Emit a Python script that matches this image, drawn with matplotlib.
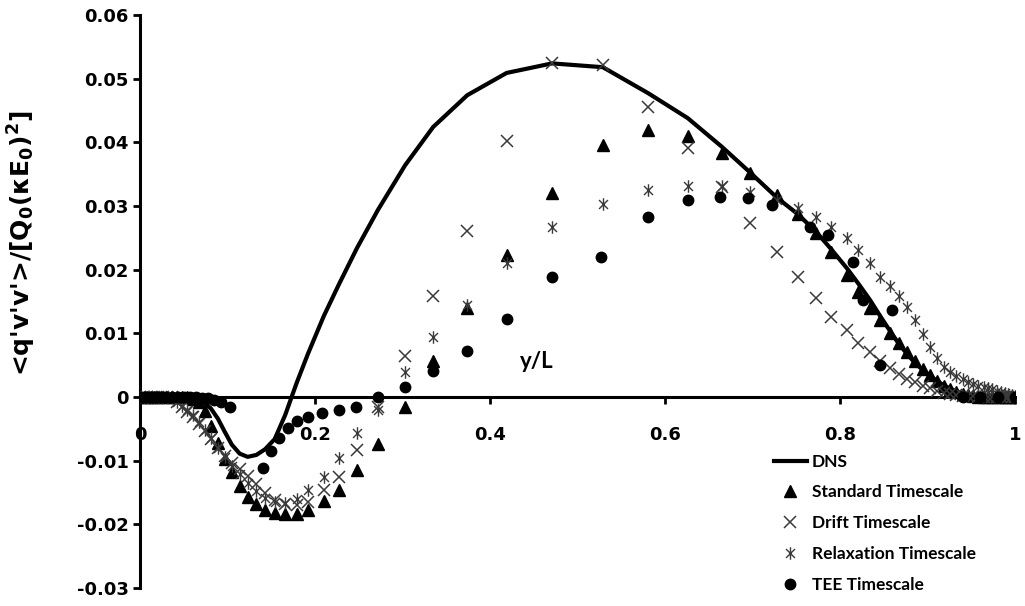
import matplotlib
matplotlib.use("Agg")
import matplotlib.pyplot as plt
from matplotlib.path import Path

# wall-normal positions y/L (shared by DNS and the first three models)
y_L = [0.000, 0.004, 0.008, 0.012, 0.016, 0.021, 0.026, 0.031, 0.036, 0.042,
       0.048, 0.054, 0.060, 0.067, 0.074, 0.081, 0.089, 0.097, 0.105, 0.114,
       0.123, 0.133, 0.143, 0.154, 0.166, 0.179, 0.192, 0.210, 0.227, 0.248,
       0.272, 0.303, 0.335, 0.374, 0.419, 0.471,
       0.529, 0.581, 0.626, 0.665, 0.697, 0.728, 0.752, 0.773, 0.790, 0.808,
       0.821, 0.834, 0.846, 0.857, 0.867, 0.877, 0.886, 0.895, 0.903, 0.911,
       0.919, 0.926, 0.933, 0.940, 0.946, 0.952, 0.958, 0.964, 0.969, 0.974,
       0.979, 0.984, 0.988, 0.992, 0.996, 1.000]

dns = [0, 0, 0, 0, 0, 0, 0, 0, 0, 0,
       0, -0.0001, -0.0002, -0.0004, -0.0009, -0.0018, -0.0034, -0.0055, -0.0075, -0.0089,
       -0.0094, -0.0091, -0.0082, -0.0066, -0.0028, 0.0022, 0.0068, 0.0127, 0.0176, 0.0234,
       0.0294, 0.0364, 0.0424, 0.0474, 0.0509, 0.0524,
       0.0518, 0.0477, 0.0438, 0.0393, 0.0353, 0.0313, 0.0287, 0.0259, 0.0232, 0.0202,
       0.0178, 0.0153, 0.0127, 0.0104, 0.0084, 0.0067, 0.0053, 0.0042, 0.0033, 0.0025,
       0.0018, 0.0013, 0.0009, 0.0006, 0.0004, 0.0002, 0.0001, 0.0001, 0, 0,
       0, 0, 0, 0, 0, 0]

standard = [0, 0, 0, 0, 0, 0, 0, 0, 0, 0,
            0, 0, -0.0003, -0.0008, -0.0022, -0.0045, -0.0072, -0.0097, -0.0118, -0.0140,
            -0.0157, -0.0168, -0.0177, -0.0182, -0.0184, -0.0183, -0.0177, -0.0163, -0.0146, -0.0115,
            -0.0074, -0.0016, 0.0057, 0.0140, 0.0223, 0.0320,
            0.0396, 0.0419, 0.0410, 0.0383, 0.0352, 0.0318, 0.0288, 0.0258, 0.0228, 0.0192,
            0.0165, 0.0140, 0.0121, 0.0101, 0.0085, 0.0071, 0.0056, 0.0044, 0.0034, 0.0025,
            0.0018, 0.0012, 0.0008, 0.0005, 0.0003, 0.0001, 0, 0, 0, 0,
            0, 0, 0, 0, 0, 0]

drift = [0, 0, 0, 0, 0, 0, 0, 0, 0, -0.0008,
         -0.0015, -0.0023, -0.0032, -0.0043, -0.0053, -0.0066, -0.0080, -0.0092, -0.0103, -0.0113,
         -0.0124, -0.0137, -0.0150, -0.0162, -0.0168, -0.0170, -0.0165, -0.0146, -0.0125, -0.0083,
         -0.0016, 0.0065, 0.0159, 0.0261, 0.0402, 0.0524,
         0.0522, 0.0455, 0.0391, 0.0330, 0.0273, 0.0228, 0.0188, 0.0155, 0.0126, 0.0105,
         0.0085, 0.0070, 0.0057, 0.0045, 0.0036, 0.0029, 0.0023, 0.0018, 0.0014, 0.0010,
         0.0007, 0.0005, 0.0003, 0.0002, 0.0001, 0.0001, 0, 0, 0, 0,
         0, 0, 0, 0, 0, 0]

relaxation = [0, 0, 0, 0, 0, 0, 0, 0, 0, -0.0008,
              -0.0014, -0.0021, -0.0029, -0.0040, -0.0052, -0.0065, -0.0080, -0.0095, -0.0108, -0.0121,
              -0.0135, -0.0148, -0.0158, -0.0165, -0.0167, -0.0160, -0.0146, -0.0125, -0.0096, -0.0057,
              -0.0020, 0.0039, 0.0094, 0.0144, 0.0210, 0.0267,
              0.0303, 0.0325, 0.0331, 0.0331, 0.0322, 0.0310, 0.0297, 0.0282, 0.0267, 0.0249,
              0.0231, 0.0210, 0.0188, 0.0174, 0.0158, 0.0141, 0.0121, 0.0099, 0.0079, 0.0062,
              0.0047, 0.0040, 0.0033, 0.0028, 0.0024, 0.0021, 0.0018, 0.0016, 0.0014, 0.0012,
              0.0010, 0.0008, 0.0007, 0.0005, 0.0003, 0.0001]

# TEE model was sampled on its own set of points
y_L_tee = [0.000, 0.006, 0.012, 0.018, 0.024, 0.030, 0.036, 0.043, 0.050, 0.057,
           0.064, 0.071, 0.078, 0.085, 0.092, 0.103,
           0.141, 0.150, 0.159, 0.169, 0.179, 0.192, 0.208, 0.227, 0.247, 0.272,
           0.303, 0.335, 0.374, 0.419, 0.471, 0.527, 0.580, 0.626, 0.663, 0.695,
           0.722, 0.766, 0.786, 0.815, 0.826, 0.859, 0.846, 0.940, 0.960, 0.980, 1.000]
tee = [0, 0, 0, 0, 0, 0, 0, 0, 0, 0,
       0, -0.0001, -0.0002, -0.0004, -0.0008, -0.0015,
       -0.0111, -0.0085, -0.0064, -0.0048, -0.0038, -0.0031, -0.0025, -0.0021, -0.0016, 0.0000,
       0.0016, 0.0041, 0.0072, 0.0122, 0.0188, 0.0220, 0.0283, 0.0309, 0.0314, 0.0312,
       0.0301, 0.0267, 0.0254, 0.0212, 0.0152, 0.0137, 0.0050, 0, 0, 0, 0]

plt.rcParams['mathtext.default'] = 'bf'

# asterisk marker: an x with a vertical bar through it
star = Path([(-1, -1), (1, 1), (-1, 1), (1, -1), (0, -1.4), (0, 1.4)],
            [Path.MOVETO, Path.LINETO] * 3)

fig = plt.figure(figsize=(10.25, 6.06), dpi=100)
ax = fig.add_axes([140/1025, 1 - 588/606, 875/1025, 573/606])

grey = '#3a3a3a'
ax.plot(y_L, dns, color='black', lw=3, label='DNS', zorder=2)
ax.plot(y_L, standard, ls='none', marker='^', ms=8.5, color='black',
        label='Standard Timescale', zorder=3)
ax.plot(y_L, drift, ls='none', marker='x', ms=8, mew=1.1, color=grey,
        label='Drift Timescale', zorder=3)
ax.plot(y_L, relaxation, ls='none', marker=star, ms=9, mew=1.0, color=grey,
        mfc='none', label='Relaxation Timescale', zorder=3)
ax.plot(y_L_tee, tee, ls='none', marker='o', ms=7.5, color='black',
        label='TEE Timescale', zorder=4)

ax.set_xlim(0, 1)
ax.set_ylim(-0.03, 0.06)
ax.set_xticks([0, 0.2, 0.4, 0.6, 0.8, 1])
ax.set_xticklabels(['0', '0.2', '0.4', '0.6', '0.8', '1'])
ax.set_yticks([-0.03, -0.02, -0.01, 0, 0.01, 0.02, 0.03, 0.04, 0.05, 0.06])
ax.set_yticklabels(['-0.03', '-0.02', '-0.01', '0', '0.01', '0.02', '0.03',
                    '0.04', '0.05', '0.06'])

ax.spines['top'].set_visible(False)
ax.spines['right'].set_visible(False)
ax.spines['bottom'].set_position(('data', 0))
ax.spines['bottom'].set_linewidth(2.2)
ax.spines['left'].set_linewidth(2.2)
ax.tick_params(axis='both', direction='out', length=5, width=2, color='black')
ax.tick_params(axis='x', pad=16)
ax.tick_params(axis='y', pad=3)
for lab in ax.get_xticklabels() + ax.get_yticklabels():
    lab.set_fontweight('bold')
    lab.set_fontsize(13)
ax.patch.set_visible(False)

ax.text(0.454, 0.0055, 'y/L', fontsize=16, fontweight='bold', family='Lato',
        ha='center', va='center')
fig.text(22/1025, 1 - 243/606, "<q'v'v'>/[Q$_0$(κE$_0$)$^2$]", rotation=90,
         fontsize=18, fontweight='bold', ha='center', va='center')

ax.legend(loc='upper left', bbox_to_anchor=(765/1025, 1 - 445/606),
          bbox_transform=fig.transFigure, frameon=False, handlelength=1.9,
          handletextpad=0.3, labelspacing=0.85, borderpad=0,
          prop={'family': 'Lato', 'weight': 'bold', 'size': 12.5})

fig.savefig('out.png', dpi=100)
